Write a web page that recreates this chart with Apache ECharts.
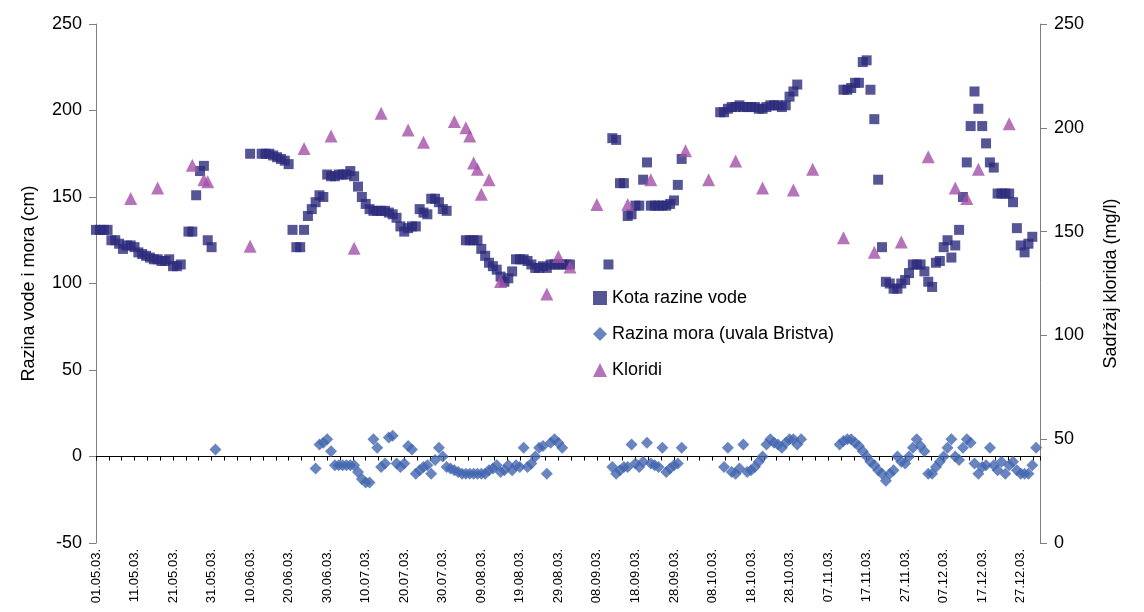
<!DOCTYPE html>
<html><head><meta charset="utf-8">
<script src="https://cdn.jsdelivr.net/npm/echarts@6/dist/echarts.min.js"></script>
<style>html,body{margin:0;padding:0;background:#fff}#c{width:1144px;height:612px}</style>
</head><body><div id="c"></div>
<script>
// day index from 01.05.03 = 0
const startDate = [2003, 4, 1];
const kota = [[0,131],[1,131],[2,131],[3,131],[4,125],[5,125],[6,123],[7,120],[8,122],[9,122],[10,121],[11,118],[12,117],[13,116],[14,115],[15,114],[16,114],[17,113],[18,113],[19,114],[20,110],[21,110],[22,111],[24,130],[25,130],[26,151],[27,165],[28,168],[29,125],[30,121],
[40,175],[43,175],[44,175],[45,175],[46,174],[47,173],[48,172],[49,171],[50,169],[51,131],[52,121],[53,121],[54,131],[55,139],[56,143],[57,147],[58,151],[59,150],[60,163],[61,162],[62,162],[63,163],[64,163],[65,163],[66,165],[67,162],[68,156],[69,150],[70,146],[71,143],[72,142],[73,142],[74,142],[75,142],[76,141],[77,140],[78,138],[79,133],[80,130],[81,132],[82,133],[83,133],[84,143],[85,141],[86,140],[87,149],[88,149],[89,147],[90,143],[91,142],
[96,125],[97,125],[98,125],[99,125],[100,120],[101,116],[102,112],[103,110],[104,108],[105,104],[106,101],[107,103],[108,107],[109,114],[110,114],[111,114],[112,113],[113,111],[114,109],[115,109],[116,110],[117,109],[118,111],[119,111],[120,111],[121,111],[122,111],[123,111],
[133,111],[134,184],[135,183],[136,158],[137,158],[138,139],[139,140],[140,145],[141,145],[142,160],[143,170],[144,145],[145,145],[146,145],[147,145],[148,145],[149,146],[150,148],[151,157],[152,172],
[162,199],[163,199],[164,201],[165,202],[166,202],[167,203],[168,202],[169,202],[170,202],[171,202],[172,201],[173,201],[174,202],[175,203],[176,203],[177,203],[178,202],[179,203],[180,208],[181,211],[182,215],
[194,212],[195,212],[196,213],[197,216],[198,216],[199,228],[200,229],[201,212],[202,195],[203,160],[204,121],[205,101],[206,100],[207,97],[208,97],[209,100],[210,102],[211,106],[212,111],[213,111],[214,111],[215,107],[216,101],[217,98],[218,112],[219,113],[220,121],[221,125],[222,115],[223,122],[224,131],[225,150],[226,170],[227,191],[228,211],[229,201],[230,191],[231,181],[232,170],[233,167],[234,152],[235,152],[236,152],[237,152],[238,147],[239,132],[240,122],[241,118],[242,123],[243,127]];
const more = [[31,4],[57,-7],[58,7],[59,8],[60,10],[61,3],[62,-5],[63,-5],[64,-5],[65,-5],[66,-5],[67,-5],[68,-9],[69,-13],[70,-15],[71,-15],[72,10],[73,5],[74,-6],[75,-4],[76,11],[77,12],[78,-4],[79,-6],[80,-4],[81,6],[82,4],[83,-10],[84,-8],[85,-6],[86,-5],[87,-10],[88,-2],[89,5],[90,0],[91,-6],[92,-7],[93,-8],[94,-9],[95,-10],[96,-10],[97,-10],[98,-10],[99,-10],[100,-10],[101,-10],[102,-8],[103,-7],[104,-5],[105,-9],[106,-8],[107,-5],[108,-8],[109,-5],[110,-6],[111,5],[112,-6],[113,-4],[114,0],[115,5],[116,6],[117,-10],[118,8],[119,10],[120,8],[121,5],
[134,-6],[135,-10],[136,-8],[137,-6],[138,-6],[139,7],[140,-4],[141,-6],[142,-3],[143,8],[144,-4],[145,-5],[146,-6],[147,5],[148,-9],[149,-7],[150,-5],[151,-4],[152,5],
[163,-6],[164,5],[165,-9],[166,-10],[167,-7],[168,7],[169,-9],[170,-8],[171,-6],[172,-3],[173,0],[174,7],[175,10],[176,8],[177,7],[178,5],[179,8],[180,10],[181,10],[182,7],[183,10],
[193,7],[194,9],[195,10],[196,10],[197,8],[198,6],[199,3],[200,0],[201,-3],[202,-5],[203,-8],[204,-10],[205,-14],[206,-10],[207,-8],[208,0],[209,-3],[210,-4],[211,0],[212,5],[213,10],[214,6],[215,3],[216,-10],[217,-10],[218,-6],[219,-3],[220,0],[221,5],[222,10],[223,0],[224,-2],[225,5],[226,10],[227,8],[228,-4],[229,-10],[230,-6],[231,-5],[232,5],[233,-5],[234,-8],[235,-3],[236,-10],[237,-5],[238,-3],[239,-8],[240,-10],[241,-10],[242,-10],[243,-5],[244,5]];
const kloridi = [[9,166],[16,171],[25,182],[28,175],[29,174],[40,143],[54,190],[61,196],[67,142],[74,207],[81,199],[85,193],[93,203],[96,200],[97,196],[98,183],[99,180],[100,168],[102,175],[105,126],[117,120],[120,138],[123,133],[130,163],[138,163],[144,175],[153,189],[159,175],[166,184],[173,171],[181,170],[186,180],[194,147],[202,140],[209,145],[216,186],[223,171],[226,166],[229,180],[237,202]];
const seriesNames = ['Kota razine vode','Razina mora (uvala Bristva)','Kloridi'];

function dayLabel(d){
  const dt = new Date(startDate[0], startDate[1], startDate[2] + d);
  const p = n => String(n).padStart(2,'0');
  return p(dt.getDate()) + '.' + p(dt.getMonth()+1) + '.' + String(dt.getFullYear()).slice(2) + '.';
}
const font = 'Liberation Sans, Arial, sans-serif';
const chart = echarts.init(document.getElementById('c'));
chart.setOption({
  animation:false,
  grid:{left:96,right:104,top:24,bottom:69,containLabel:false},
  legend:{orient:'vertical',left:588,top:284,itemGap:18,itemWidth:14,itemHeight:14,
    textStyle:{fontFamily:font,fontSize:18,color:'#000'},
    data:[{name:seriesNames[0],icon:'rect'},{name:seriesNames[1],icon:'diamond'},{name:seriesNames[2],icon:'triangle'}]},
  xAxis:[
    {type:'value',min:0,max:245,interval:10,position:'bottom',axisLine:{show:false,onZero:false},axisTick:{show:false},splitLine:{show:false},
     axisLabel:{rotate:90,fontFamily:font,fontSize:13,color:'#000',margin:6,showMaxLabel:false,formatter:v=>dayLabel(v)}},
    {type:'value',min:0,max:245,interval:10,position:'bottom',axisLine:{show:true,onZero:true,onZeroAxisIndex:0,lineStyle:{color:'#000',width:1}},
     axisTick:{show:true,length:4,lineStyle:{color:'#000'}},minorTick:{show:true,splitNumber:3,length:4,lineStyle:{color:'#000'}},
     splitLine:{show:false},minorSplitLine:{show:false},axisLabel:{show:false}}
  ],
  yAxis:[
    {type:'value',min:-50,max:250,interval:50,name:'Razina vode i mora (cm)',nameLocation:'middle',nameGap:58,
     nameTextStyle:{fontFamily:font,fontSize:18,color:'#000'},
     axisLine:{show:true,onZero:false,lineStyle:{color:'#808080'}},axisTick:{show:true,length:7,lineStyle:{color:'#808080'}},splitLine:{show:false},
     axisLabel:{fontFamily:font,fontSize:18,color:'#000',margin:14}},
    {type:'value',min:0,max:250,interval:50,position:'right',name:'Sadržaj klorida (mg/l)',nameLocation:'middle',nameGap:62,nameRotate:90,
     nameTextStyle:{fontFamily:font,fontSize:18,color:'#000'},
     axisLine:{show:true,onZero:false,lineStyle:{color:'#808080'}},axisTick:{show:true,length:7,lineStyle:{color:'#808080'}},splitLine:{show:false},
     axisLabel:{fontFamily:font,fontSize:18,color:'#000',margin:14}}
  ],
  series:[
    {name:seriesNames[0],type:'scatter',xAxisIndex:0,yAxisIndex:0,symbol:'rect',symbolSize:10,itemStyle:{color:'#2c2a7c'},data:kota},
    {name:seriesNames[1],type:'scatter',xAxisIndex:0,yAxisIndex:0,symbol:'diamond',symbolSize:12,itemStyle:{color:'#4466b0'},data:more},
    {name:seriesNames[2],type:'scatter',xAxisIndex:0,yAxisIndex:1,symbol:'triangle',symbolSize:13,itemStyle:{color:'#a550a8'},data:kloridi}
  ]
});
</script></body></html>
